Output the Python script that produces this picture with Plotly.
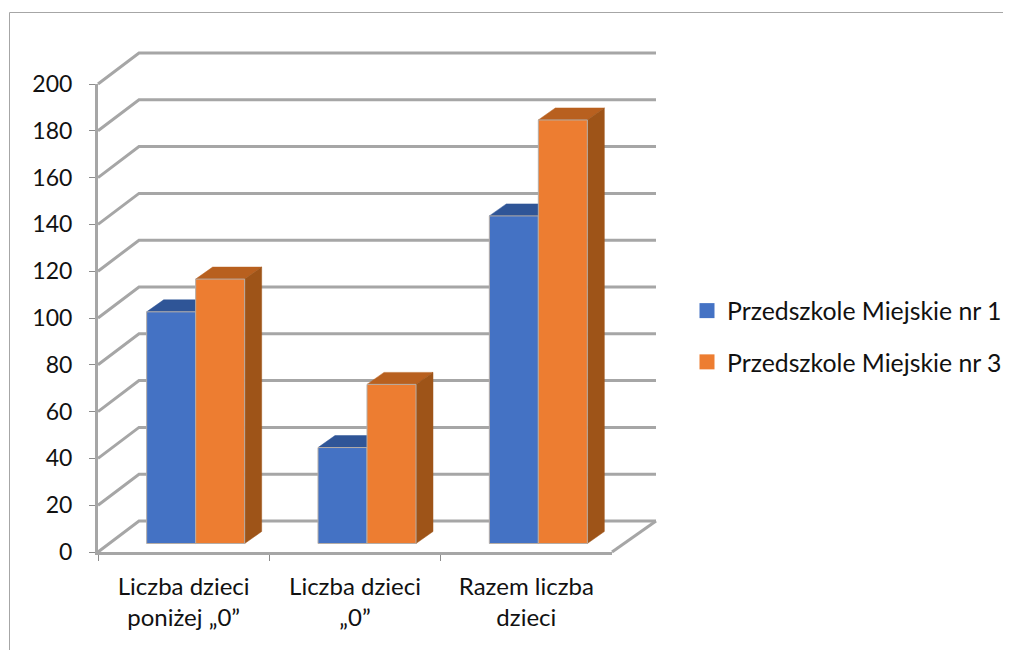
import plotly.graph_objects as go

categories = ["Liczba dzieci<br>poniżej „0”", "Liczba dzieci<br>„0”", "Razem liczba<br>dzieci"]
series_names = ["Przedszkole Miejskie nr 1", "Przedszkole Miejskie nr 3"]
values_nr1 = [99, 41, 140]
values_nr3 = [113, 68, 181]
y_ticks = list(range(0, 201, 20))

# The page body has an 8 px margin, so the figure starts at (8, 8).
OFF = 8
W, H = 1011 - OFF, 650 - OFF
fx = lambda p: (p - OFF) / W            # page px -> paper x
fy = lambda p: 1 - (p - OFF) / H        # page px -> paper y

# front plane of the chart, page px
X0, X3, Y0, Y200 = 98, 612, 552, 84
PX_X = (X3 - X0) / 3
PX_Y = (Y0 - Y200) / 200
# box of the depth layer, page px (wider than the walls so nothing is clipped)
BL, BR, BT, BB = 80, 680, 40, 570
WALL_DX, WALL_DY = 41 / PX_X, 31 / PX_Y
WALL_RIGHT = 3 + 44 / PX_X
BAR_SHIFT_X, BAR_BASE = 12 / PX_X, 8.5 / PX_Y
BAR_W = 49 / PX_X
DEPTH_X, DEPTH_Y = 17 / PX_X, 12 / PX_Y

GRID = "#A6A6A6"
TICK = "#8C8C8C"
FONT = dict(family="Lato, Carlito, Calibri, sans-serif", size=24, color="#111111")
colors = [
    dict(front="#4472C4", top="#2F5597", side="#2F5597"),
    dict(front="#ED7D31", top="#B8601F", side="#9E5418"),
]

fig = go.Figure()

# native front axes
fig.add_trace(go.Scatter(x=categories, y=[0, 0, 0], mode="lines", line=dict(width=0),
                         showlegend=False, hoverinfo="skip"))


def poly(xs, ys, color):
    fig.add_trace(go.Scatter(x=xs, y=ys, mode="lines", fill="toself", fillcolor=color,
                             line=dict(color=color, width=0.5), showlegend=False,
                             hoverinfo="skip", xaxis="x2", yaxis="y2"))


def line(xs, ys, width=3, color=GRID):
    fig.add_trace(go.Scatter(x=xs, y=ys, mode="lines", line=dict(color=color, width=width),
                             showlegend=False, hoverinfo="skip", xaxis="x2", yaxis="y2"))


# walls and floor
for v in y_ticks:
    line([0, WALL_DX, WALL_RIGHT], [v, v + WALL_DY, v + WALL_DY])
line([3, WALL_RIGHT], [0, WALL_DY])

# top and side faces
centers = [0.5 + i + BAR_SHIFT_X for i in range(3)]
for s, vals in enumerate([values_nr1, values_nr3]):
    for c, v in zip(centers, vals):
        x0 = c + (s - 1) * BAR_W
        x1 = x0 + BAR_W
        poly([x0, x0 + DEPTH_X, x1 + DEPTH_X, x1, x0],
             [v + BAR_BASE, v + BAR_BASE + DEPTH_Y, v + BAR_BASE + DEPTH_Y, v + BAR_BASE, v + BAR_BASE],
             colors[s]["top"])
        poly([x1, x1 + DEPTH_X, x1 + DEPTH_X, x1, x1],
             [BAR_BASE, BAR_BASE + DEPTH_Y, v + BAR_BASE + DEPTH_Y, v + BAR_BASE, BAR_BASE],
             colors[s]["side"])

# front faces
for s, vals in enumerate([values_nr1, values_nr3]):
    fig.add_trace(go.Bar(x=centers, y=vals, base=BAR_BASE, width=BAR_W, offset=(s - 1) * BAR_W,
                         name=series_names[s], xaxis="x3", yaxis="y3", showlegend=False,
                         marker=dict(color=colors[s]["front"], line=dict(color="#B5ADA6", width=1))))

# legend entries
for s in range(2):
    fig.add_trace(go.Scatter(x=[None], y=[None], mode="markers", name=series_names[s],
                             legendgroup=series_names[s], xaxis="x3", yaxis="y3",
                             marker=dict(symbol="square", size=15, color=colors[s]["front"])))

x2_range = [(BL - X0) / PX_X, (BR - X0) / PX_X]
y2_range = [(Y0 - BB) / PX_Y, (Y0 - BT) / PX_Y]
hidden = dict(visible=False, showgrid=False, zeroline=False)
frame = dict(type="line", xref="paper", yref="paper", line=dict(color="#A6A6A6", width=1))
LEGEND_FONT = dict(FONT, size=24.8)

fig.update_layout(
    width=W, height=H, autosize=False,
    margin=dict(l=0, r=0, t=0, b=0, pad=0),
    paper_bgcolor="white", plot_bgcolor="rgba(0,0,0,0)", font=FONT, barmode="overlay",
    xaxis=dict(domain=[fx(X0), fx(X3)], range=[-0.5, 2.5], type="category", tickson="boundaries",
               ticks="outside", ticklen=6, tickwidth=1, tickcolor=TICK,
               showline=True, linewidth=3, linecolor=GRID, showgrid=False, zeroline=False,
               ticklabelstandoff=11, automargin=False, anchor="y"),
    yaxis=dict(domain=[fy(Y0), fy(Y200)], range=[0, 200], tickmode="array", tickvals=y_ticks,
               ticks="outside", ticklen=6, tickwidth=1, tickcolor=TICK,
               showline=True, linewidth=3, linecolor=GRID, showgrid=False, zeroline=False,
               ticklabelstandoff=12, tickfont=dict(size=23), automargin=False, anchor="x"),
    xaxis2=dict(hidden, domain=[fx(BL), fx(BR)], range=x2_range, anchor="y2"),
    yaxis2=dict(hidden, domain=[fy(BB), fy(BT)], range=y2_range, anchor="x2"),
    xaxis3=dict(hidden, range=x2_range, overlaying="x2", anchor="y3"),
    yaxis3=dict(hidden, range=y2_range, overlaying="y2", anchor="x3"),
    legend=dict(x=fx(687), y=fy(288), xanchor="left", yanchor="top", traceorder="grouped",
                tracegroupgap=16, font=LEGEND_FONT, bgcolor="rgba(0,0,0,0)", itemwidth=30),
    shapes=[
        dict(frame, x0=fx(9.5), x1=1, y0=fy(12.5), y1=fy(12.5)),
        dict(frame, x0=fx(9.5), x1=fx(9.5), y0=fy(12.5), y1=0),
    ],
)
fig.write_html("out.html")
